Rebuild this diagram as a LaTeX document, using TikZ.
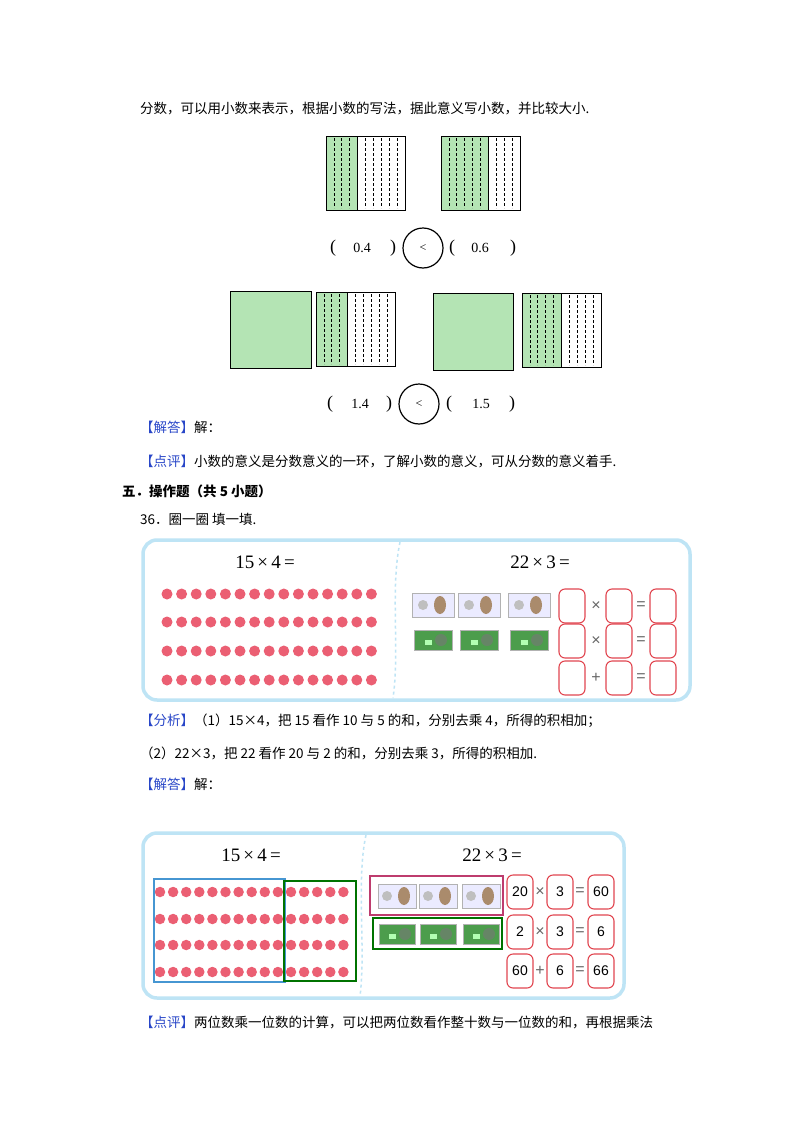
\documentclass[tikz,border=0pt]{standalone}
\usepackage{fontspec}
\setmainfont{Noto Sans CJK SC}
\newfontfamily\serifnum{Liberation Serif}
\newfontfamily\sansnum{Liberation Sans}
\definecolor{bluetag}{RGB}{40,70,200}
\definecolor{gfill}{RGB}{180,228,180}
\definecolor{boxblue}{RGB}{190,228,245}
\definecolor{dotred}{RGB}{235,95,115}
\definecolor{rbox}{RGB}{225,70,80}
\begin{document}
\begin{tikzpicture}[x=1pt,y=-1pt,
  txt/.style={anchor=west,inner sep=0,font=\fontsize{13.5}{15}\selectfont},
  frame/.style={draw=boxblue,line width=3.5,rounded corners=14},
  gridbox/.style={draw,line width=0.8},
  dot/.style={circle,fill=dotred,inner sep=0,minimum size=11},
  rb/.style={draw=rbox,line width=1.1,rounded corners=6,minimum width=26,minimum height=34,inner sep=0,font=\sansnum\fontsize{14}{14}\selectfont},
  op/.style={font=\sansnum\fontsize{16}{16}\selectfont,text=black!60,inner sep=0},
  title/.style={font=\serifnum\fontsize{19}{19}\selectfont,inner sep=0},
  paren/.style={font=\serifnum\fontsize{18}{18}\selectfont,inner sep=0},
  num/.style={font=\serifnum\fontsize{14}{14}\selectfont,inner sep=0},
  cmp/.style={draw,circle,line width=1.2,minimum size=40,inner sep=0,font=\serifnum\fontsize{12}{12}\selectfont}]
\useasboundingbox (0,0) rectangle (800,1132);
\fill[white] (0,0) rectangle (800,1132);
\node[txt] (l1) at (140,108) {分数，可以用小数来表示，根据小数的写法，据此意义写小数，并比较大小.};
\foreach \x/\k/\y in {326/4/136,441/6/136,316/4/292,522/5/293}{
  \fill[gfill] (\x,\y) rectangle ({\x+\k*7.9},\y+74);
  \foreach \i in {1,...,9}{\draw[line width=0.7,dash pattern=on 3pt off 2pt] ({\x+\i*7.9},\y+2) -- ({\x+\i*7.9},\y+72);}
  \draw[line width=1.3] ({\x+\k*7.9},\y) -- ({\x+\k*7.9},\y+74);
  \draw[gridbox] (\x,\y) rectangle (\x+79,\y+74);
}
\draw[gridbox,fill=gfill] (230,291) rectangle (311,368);
\draw[gridbox,fill=gfill] (433,293) rectangle (513,370);
\node[paren] (p1) at (333,248) {(};
\node[num] (n1) at (362,248) {0.4};
\node[paren] (p2) at (393,248) {)};
\node[cmp] (c1) at (423,248) {<};
\node[paren] (p3) at (452,248) {(};
\node[num] (n2) at (480,248) {0.6};
\node[paren] (p4) at (513,248) {)};
\node[paren] (q1) at (330,404) {(};
\node[num] (m1) at (360,404) {1.4};
\node[paren] (q2) at (389,404) {)};
\node[cmp] (c2) at (419,404) {<};
\node[paren] (q3) at (449,404) {(};
\node[num] (m2) at (481,404) {1.5};
\node[paren] (q4) at (512,404) {)};
\node[txt] (t1) at (140,427) {\textcolor{bluetag}{【解答】}解：};
\node[txt] (t2) at (140,461) {\textcolor{bluetag}{【点评】}小数的意义是分数意义的一环，了解小数的意义，可从分数的意义着手.};
\node[txt,font=\fontsize{13.5}{15}\selectfont\bfseries] (t3) at (122,491) {五．操作题（共 5 小题）};
\node[txt] (t4) at (140,519) {36．圈一圈\ 填一填.};
\node[txt] (t5) at (140,721) {\textcolor{bluetag}{【分析】}（1）15×4，把 15 看作 10 与 5 的和，分别去乘 4，所得的积相加；};
\node[txt] (t6) at (140,753) {（2）22×3，把 22 看作 20 与 2 的和，分别去乘 3，所得的积相加.};
\node[txt] (t7) at (140,784) {\textcolor{bluetag}{【解答】}解：};
\node[txt] (t8) at (140,1022) {\textcolor{bluetag}{【点评】}两位数乘一位数的计算，可以把两位数看作整十数与一位数的和，再根据乘法};
% box 1
\draw[frame] (143,540) rectangle (690,700);
\draw[boxblue,line width=1.5,dashed] (400,542) .. controls (390,590) and (400,650) .. (393,698);
\node[title] (h1) at (265,562) {15\,×\,4\,=};
\node[title] (h2) at (540,562) {22\,×\,3\,=};
\foreach \r/\yy in {1/594,2/622,3/651,4/680}{
  \foreach \c in {0,...,14}{\node[dot] (a\r-\c) at ({167+\c*14.6},\yy) {};}}
\foreach \cx in {433,479,529}{
  \draw[fill=blue!8,draw=gray!60] (\cx-21,593) rectangle (\cx+21,617);
  \fill[brown!70!black!70] (\cx+7,605) ellipse (6 and 9);
  \fill[gray!50] (\cx-10,605) circle (5);
  \draw[fill=green!45!black!70,draw=gray!60] (\cx-19,630) rectangle (\cx+19,650);
  \fill[white!70!green] (\cx-8,640) rectangle (\cx-1,645);
  \fill[green!20!black!60] (\cx+8,640) circle (6);
}
\foreach \r/\yy/\o in {1/606/×,2/641/×,3/678/+}{
  \node[rb] (e\r a) at (572,\yy) {};
  \node[rb] (e\r b) at (619,\yy) {};
  \node[rb] (e\r c) at (663,\yy) {};
  \node[op] at (596,\yy) {\o};
  \node[op] at (641,\yy) {=};
}
% box 2
\draw[frame] (143,833) rectangle (624,998);
\draw[boxblue,line width=1.5,dashed] (366,835) .. controls (356,880) and (366,950) .. (360,996);
\node[title] (g1) at (251,855) {15\,×\,4\,=};
\node[title] (g2) at (492,855) {22\,×\,3\,=};
\foreach \r/\yy in {1/892,2/919,3/945,4/972}{
  \foreach \c in {0,...,14}{\node[dot,minimum size=10.5] (b\r-\c) at ({160+\c*13.1},\yy) {};}}
\draw[draw={rgb,255:red,70;green,150;blue,210},line width=2] (154,879) rectangle (285,982);
\draw[green!45!black,line width=2.4] (284,881) rectangle (356,981);
\draw[draw={rgb,255:red,190;green,60;blue,110},line width=1.6] (370,876) rectangle (503,915);
\draw[green!45!black,line width=2.4] (373,918) rectangle (502,949);
\foreach \cx in {397,438,481}{
  \draw[fill=blue!8,draw=gray!60] (\cx-19,884) rectangle (\cx+19,908);
  \fill[brown!70!black!70] (\cx+7,896) ellipse (6 and 9);
  \fill[gray!50] (\cx-10,896) circle (5);
  \draw[fill=green!45!black!70,draw=gray!60] (\cx-18,924) rectangle (\cx+18,944);
  \fill[white!70!green] (\cx-8,934) rectangle (\cx-1,939);
  \fill[green!20!black!60] (\cx+8,934) circle (6);
}
\foreach \r/\yy/\o/\p/\q/\s in {1/892/×/20/3/60,2/932/×/2/3/6,3/971/+/60/6/66}{
  \node[rb] (f\r a) at (520,\yy) {\p};
  \node[rb] (f\r b) at (560,\yy) {\q};
  \node[rb] (f\r c) at (601,\yy) {\s};
  \node[op] at (540,\yy) {\o};
  \node[op] at (580,\yy) {=};
}
\end{tikzpicture}
\end{document}
